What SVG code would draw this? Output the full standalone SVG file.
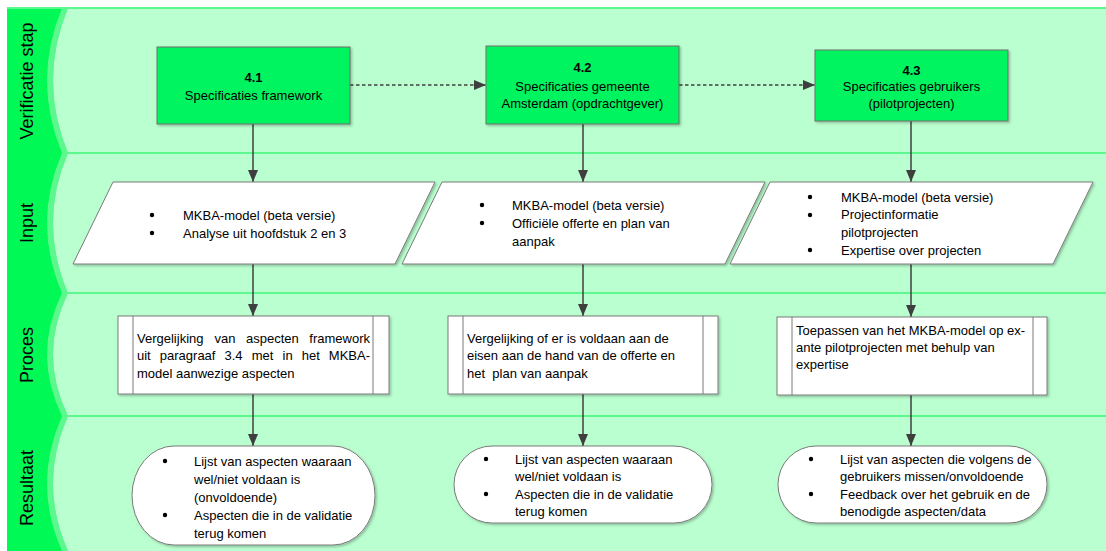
<svg xmlns="http://www.w3.org/2000/svg" width="1106" height="551" viewBox="0 0 1106 551">
<style>
  .hdr{fill:#00F955}
  .band{fill:#5CF88E}
  .lane{fill:#BAFFCF}
  .sep{stroke:#5CF88E;stroke-width:2;fill:none}
  .lbl{font-family:"Liberation Sans",Arial,sans-serif;font-size:18px;fill:#000}
  .t{font-family:"Liberation Sans",Arial,sans-serif;font-size:13px;fill:#000}
  .b{font-weight:bold}
  .gbox{fill:#00F45E;stroke:#6E6E6E;stroke-width:1}
  .wbox{fill:#FFFFFF;stroke:#7A7A7A;stroke-width:1}
  .conn{stroke:#3F3F3F;stroke-width:1.5;fill:none}
  .dash{stroke-dasharray:3.5 2.5;stroke-width:1.3}
</style>
<defs>
  <marker id="ah" viewBox="0 0 12 10" refX="12" refY="5" markerWidth="12" markerHeight="10" markerUnits="userSpaceOnUse" orient="auto">
    <path d="M0,0 L12,5 L0,10 z" fill="#3F3F3F"/>
  </marker>
  <filter id="sh" x="-5%" y="-5%" width="115%" height="120%">
    <feDropShadow dx="1.5" dy="1.5" stdDeviation="1" flood-color="#000" flood-opacity="0.25"/>
  </filter>
</defs>

<!-- background swimlanes -->
<g id="lanes">
  <rect x="7" y="8" width="1099" height="543" class="hdr"/>
  <path class="band" d="M62,8 L68,8 Q38,80.5 68,153 L62,153 Q32,80.5 62,8 z"/>
  <path class="lane" d="M68,8 L1106,8 L1106,153 L68,153 Q38,80.5 68,8 z"/>
  <path class="band" d="M62,153 L68,153 Q38,223 68,293 L62,293 Q32,223 62,153 z"/>
  <path class="lane" d="M68,153 L1106,153 L1106,293 L68,293 Q38,223 68,153 z"/>
  <path class="band" d="M62,293 L68,293 Q38,354.5 68,416 L62,416 Q32,354.5 62,293 z"/>
  <path class="lane" d="M68,293 L1106,293 L1106,416 L68,416 Q38,354.5 68,293 z"/>
  <path class="band" d="M62,416 L68,416 Q38,483.5 68,551 L62,551 Q32,483.5 62,416 z"/>
  <path class="lane" d="M68,416 L1106,416 L1106,551 L68,551 Q38,483.5 68,416 z"/>
  <line class="sep" x1="7" y1="8" x2="1106" y2="8"/>
  <line class="sep" x1="62" y1="153" x2="1106" y2="153"/>
  <line class="sep" x1="62" y1="293" x2="1106" y2="293"/>
  <line class="sep" x1="62" y1="416" x2="1106" y2="416"/>
  <text class="lbl" transform="translate(33,81) rotate(-90)" text-anchor="middle">Verificatie stap</text>
  <text class="lbl" transform="translate(33,223) rotate(-90)" text-anchor="middle">Input</text>
  <text class="lbl" transform="translate(33,355) rotate(-90)" text-anchor="middle">Proces</text>
  <text class="lbl" transform="translate(33,488) rotate(-90)" text-anchor="middle">Resultaat</text>
</g>

<!-- connectors -->
<g id="connectors">
  <line class="conn dash" x1="350" y1="85" x2="486" y2="85" marker-end="url(#ah)"/>
  <line class="conn dash" x1="679" y1="85" x2="815" y2="85" marker-end="url(#ah)"/>
  <line class="conn" x1="253" y1="124" x2="253" y2="182" marker-end="url(#ah)"/>
  <line class="conn" x1="583" y1="124" x2="583" y2="182" marker-end="url(#ah)"/>
  <line class="conn" x1="911" y1="121" x2="911" y2="182" marker-end="url(#ah)"/>
  <line class="conn" x1="253" y1="264" x2="253" y2="316" marker-end="url(#ah)"/>
  <line class="conn" x1="583" y1="264" x2="583" y2="316" marker-end="url(#ah)"/>
  <line class="conn" x1="911" y1="264" x2="911" y2="317" marker-end="url(#ah)"/>
  <line class="conn" x1="253" y1="394" x2="253" y2="446" marker-end="url(#ah)"/>
  <line class="conn" x1="583" y1="394" x2="583" y2="446" marker-end="url(#ah)"/>
  <line class="conn" x1="911" y1="395" x2="911" y2="446" marker-end="url(#ah)"/>
</g>

<!-- verification steps -->
<g id="step41">
  <rect class="gbox" x="157" y="47" width="193" height="77" filter="url(#sh)"/>
  <text class="t b" x="253.5" y="82" text-anchor="middle">4.1</text>
  <text class="t" x="253.5" y="100" text-anchor="middle">Specificaties framework</text>
</g>
<g id="step42">
  <rect class="gbox" x="486" y="46" width="193" height="78" filter="url(#sh)"/>
  <text class="t b" x="582.5" y="72" text-anchor="middle">4.2</text>
  <text class="t" x="582.5" y="91" text-anchor="middle">Specificaties gemeente</text>
  <text class="t" x="582.5" y="108" text-anchor="middle">Amsterdam (opdrachtgever)</text>
</g>
<g id="step43">
  <rect class="gbox" x="815" y="50" width="193" height="71" filter="url(#sh)"/>
  <text class="t b" x="911.5" y="75" text-anchor="middle">4.3</text>
  <text class="t" x="911.5" y="91" text-anchor="middle">Specificaties gebruikers</text>
  <text class="t" x="911.5" y="108" text-anchor="middle">(pilotprojecten)</text>
</g>

<!-- inputs -->
<g id="input1">
  <path class="wbox" d="M113,182 L435,182 L395,264 L73,264 z" filter="url(#sh)"/>
  <circle cx="152" cy="215" r="2.2"/>
  <text class="t" x="183" y="219.5">MKBA-model (beta versie)</text>
  <circle cx="152" cy="233" r="2.2"/>
  <text class="t" x="183" y="237.5">Analyse uit hoofdstuk 2 en 3</text>
</g>
<g id="input2">
  <path class="wbox" d="M442,182 L765,182 L725,264 L402,264 z" filter="url(#sh)"/>
  <circle cx="482" cy="205" r="2.2"/>
  <text class="t" x="512" y="209.5">MKBA-model (beta versie)</text>
  <circle cx="482" cy="223" r="2.2"/>
  <text class="t" x="512" y="227.5">Officiële offerte en plan van</text>
  <text class="t" x="512" y="245.5">aanpak</text>
</g>
<g id="input3">
  <path class="wbox" d="M770,182 L1093,182 L1053,264 L730,264 z" filter="url(#sh)"/>
  <circle cx="810" cy="197" r="2.2"/>
  <text class="t" x="841" y="201.5">MKBA-model (beta versie)</text>
  <circle cx="810" cy="215" r="2.2"/>
  <text class="t" x="841" y="219">Projectinformatie</text>
  <text class="t" x="841" y="236.5">pilotprojecten</text>
  <circle cx="810" cy="250" r="2.2"/>
  <text class="t" x="841" y="254.5">Expertise over projecten</text>
</g>

<!-- processes -->
<g id="proces1">
  <rect class="wbox" x="118" y="316" width="271" height="78" filter="url(#sh)"/>
  <line class="wbox" x1="133" y1="316" x2="133" y2="394"/>
  <line class="wbox" x1="373" y1="316" x2="373" y2="394"/>
  <text class="t" y="342.5"><tspan x="137">Vergelijking</tspan><tspan x="214.6">van</tspan><tspan x="246">aspecten</tspan><tspan x="370" text-anchor="end">framework</tspan></text>
  <text class="t" y="360"><tspan x="137">uit</tspan><tspan x="159.8">paragraaf</tspan><tspan x="224.5">3.4</tspan><tspan x="251.7">met</tspan><tspan x="282.5">in</tspan><tspan x="301.7">het</tspan><tspan x="370" text-anchor="end">MKBA-</tspan></text>
  <text class="t" x="137" y="377.5">model aanwezige aspecten</text>
</g>
<g id="proces2">
  <rect class="wbox" x="448" y="316" width="270" height="78" filter="url(#sh)"/>
  <line class="wbox" x1="463" y1="316" x2="463" y2="394"/>
  <line class="wbox" x1="703" y1="316" x2="703" y2="394"/>
  <text class="t" x="467" y="342.5">Vergelijking of er is voldaan aan de</text>
  <text class="t" x="467" y="360">eisen aan de hand van de offerte en</text>
  <text class="t" x="467" y="377.5" xml:space="preserve">het  plan van aanpak</text>
</g>
<g id="proces3">
  <rect class="wbox" x="777" y="317" width="270" height="78" filter="url(#sh)"/>
  <line class="wbox" x1="792" y1="317" x2="792" y2="395"/>
  <line class="wbox" x1="1033" y1="317" x2="1033" y2="395"/>
  <text class="t" x="796" y="334.5">Toepassen van het MKBA-model op ex-</text>
  <text class="t" x="796" y="351.5">ante pilotprojecten met behulp van</text>
  <text class="t" x="796" y="368.5">expertise</text>
</g>

<!-- results -->
<g id="resultaat1">
  <rect class="wbox" x="132" y="446" width="243" height="99" rx="42" ry="49.5" filter="url(#sh)"/>
  <circle cx="165" cy="461" r="2.2"/>
  <text class="t" x="194" y="465.5">Lijst van aspecten waaraan</text>
  <text class="t" x="194" y="483.5">wel/niet voldaan is</text>
  <text class="t" x="194" y="501.5">(onvoldoende)</text>
  <circle cx="165" cy="515" r="2.2"/>
  <text class="t" x="194" y="519.5">Aspecten die in de validatie</text>
  <text class="t" x="194" y="537.5">terug komen</text>
</g>
<g id="resultaat2">
  <rect class="wbox" x="454" y="446" width="258" height="77" rx="38" ry="38.5" filter="url(#sh)"/>
  <circle cx="486" cy="459" r="2.2"/>
  <text class="t" x="515" y="463.5">Lijst van aspecten waaraan</text>
  <text class="t" x="515" y="480.5">wel/niet voldaan is</text>
  <circle cx="486" cy="494" r="2.2"/>
  <text class="t" x="515" y="498.5">Aspecten die in de validatie</text>
  <text class="t" x="515" y="515.5">terug komen</text>
</g>
<g id="resultaat3">
  <rect class="wbox" x="778" y="446" width="269" height="77" rx="38" ry="38.5" filter="url(#sh)"/>
  <circle cx="811" cy="459" r="2.2"/>
  <text class="t" x="840" y="463.5">Lijst van aspecten die volgens de</text>
  <text class="t" x="840" y="480.5">gebruikers missen/onvoldoende</text>
  <circle cx="811" cy="494" r="2.2"/>
  <text class="t" x="840" y="498.5">Feedback over het gebruik en de</text>
  <text class="t" x="840" y="515.5">benodigde aspecten/data</text>
</g>
</svg>
